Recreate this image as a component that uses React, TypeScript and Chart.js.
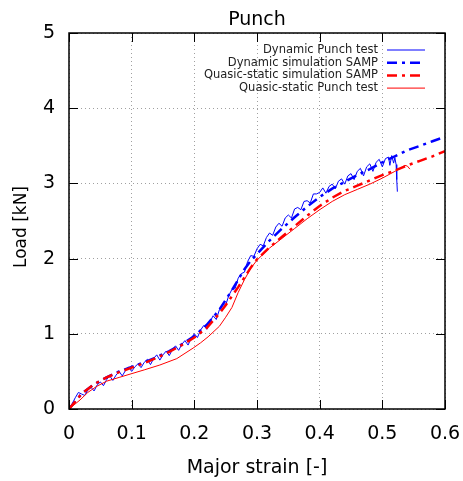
import React, { useEffect, useRef } from "react";
import { Chart, registerables } from "chart.js";

Chart.register(...registerables);

const xTicksMin = 0;
const xTicksMax = 0.6;
const yTicksMin = 0;
const yTicksMax = 5;

const dynTestStrain = [0,0.005,0.01,0.015,0.02,0.025,0.03,0.035,0.04,0.045,0.05,0.055,0.06,0.065,0.07,0.075,0.08,0.085,0.09,0.095,0.1,0.105,0.11,0.115,0.12,0.125,0.13,0.135,0.14,0.145,0.15,0.155,0.16,0.165,0.17,0.175,0.18,0.185,0.19,0.195,0.2,0.205,0.21,0.215,0.22,0.225,0.23,0.235,0.24,0.245,0.25,0.255,0.26,0.265,0.27,0.275,0.28,0.285,0.29,0.295,0.3,0.305,0.31,0.315,0.32,0.325,0.33,0.335,0.34,0.345,0.35,0.355,0.36,0.365,0.37,0.375,0.38,0.385,0.39,0.395,0.4,0.405,0.41,0.415,0.42,0.425,0.43,0.435,0.44,0.445,0.45,0.455,0.46,0.465,0.47,0.475,0.48,0.485,0.49,0.495,0.5,0.505,0.51,0.512,0.515,0.518,0.52,0.522,0.523,0.524];
const dynTestLoad = [0,0.07,0.15,0.22,0.2,0.18,0.25,0.29,0.24,0.32,0.36,0.31,0.39,0.44,0.38,0.45,0.5,0.44,0.51,0.56,0.5,0.56,0.6,0.55,0.62,0.66,0.59,0.67,0.72,0.65,0.72,0.77,0.71,0.79,0.84,0.78,0.86,0.91,0.85,0.94,1.0,0.95,1.05,1.11,1.06,1.16,1.24,1.19,1.32,1.39,1.38,1.51,1.59,1.6,1.74,1.8,1.82,1.96,2.04,2.03,2.13,2.19,2.17,2.28,2.34,2.31,2.42,2.47,2.43,2.54,2.58,2.54,2.66,2.68,2.65,2.76,2.77,2.74,2.86,2.86,2.88,2.94,2.87,2.96,2.99,2.93,3.03,3.06,2.99,3.1,3.13,3.05,3.16,3.2,3.1,3.22,3.26,3.16,3.28,3.32,3.22,3.33,3.35,3.24,3.37,3.27,3.34,3.25,3.05,2.89];

const dynSimStrain = [0,0.01,0.02,0.04,0.06,0.08,0.1,0.12,0.14,0.16,0.18,0.2,0.22,0.24,0.25,0.26,0.27,0.28,0.29,0.3,0.32,0.34,0.36,0.38,0.4,0.42,0.44,0.46,0.48,0.5,0.52,0.54,0.56,0.58,0.6];
const dynSimLoad = [0,0.1,0.2,0.33,0.42,0.5,0.56,0.62,0.69,0.77,0.86,0.97,1.12,1.32,1.45,1.58,1.72,1.86,1.97,2.06,2.24,2.4,2.55,2.69,2.82,2.93,3.02,3.11,3.19,3.28,3.36,3.44,3.5,3.56,3.62];

const qsSimStrain = [0,0.01,0.02,0.04,0.06,0.08,0.1,0.12,0.14,0.16,0.18,0.2,0.22,0.24,0.25,0.26,0.27,0.28,0.29,0.3,0.32,0.34,0.36,0.38,0.4,0.42,0.44,0.46,0.48,0.5,0.52,0.54,0.56,0.58,0.6];
const qsSimLoad = [0,0.1,0.2,0.33,0.42,0.49,0.55,0.61,0.68,0.76,0.85,0.95,1.08,1.27,1.38,1.5,1.62,1.75,1.88,1.99,2.15,2.29,2.43,2.57,2.7,2.81,2.9,2.97,3.04,3.11,3.17,3.24,3.3,3.36,3.43];

const qsTestStrain = [0,0.0176,0.03,0.044,0.06,0.08,0.1,0.12,0.145,0.172,0.198,0.21,0.222,0.24,0.25,0.26,0.27,0.28,0.29,0.3,0.32,0.34,0.36,0.38,0.4,0.42,0.44,0.46,0.48,0.5,0.52,0.53,0.536,0.54,0.544];
const qsTestLoad = [0,0.12,0.22,0.3,0.37,0.42,0.47,0.52,0.585,0.67,0.81,0.88,0.96,1.1,1.22,1.35,1.55,1.72,1.87,1.98,2.14,2.27,2.4,2.53,2.65,2.76,2.85,2.92,2.99,3.07,3.16,3.21,3.24,3.23,3.19];

const seriesLabels = [
  "Dynamic Punch test",
  "Dynamic simulation SAMP",
  "Quasic-static simulation SAMP",
  "Quasic-static Punch test",
];

const FONT = "DejaVu Sans";

function pts(xs: number[], ys: number[]) {
  return xs.map((x, i) => ({ x, y: ys[i] }));
}

const framePlugin = {
  id: "framePlugin",
  afterDatasetsDraw(chart: any) {
    const { ctx, chartArea: a, scales } = chart;
    ctx.save();
    ctx.strokeStyle = "#000";
    ctx.lineWidth = 1;
    const tl = 9;
    scales.x.ticks.forEach((t: any) => {
      const px = Math.round(scales.x.getPixelForValue(t.value)) + 0.5;
      ctx.beginPath();
      ctx.moveTo(px, a.bottom);
      ctx.lineTo(px, a.bottom - tl);
      ctx.moveTo(px, a.top);
      ctx.lineTo(px, a.top + tl);
      ctx.stroke();
    });
    scales.y.ticks.forEach((t: any) => {
      const py = Math.round(scales.y.getPixelForValue(t.value)) + 0.5;
      ctx.beginPath();
      ctx.moveTo(a.left, py);
      ctx.lineTo(a.left + tl, py);
      ctx.moveTo(a.right, py);
      ctx.lineTo(a.right - tl, py);
      ctx.stroke();
    });
    ctx.lineWidth = 1.5;
    ctx.strokeRect(a.left, a.top, a.right - a.left, a.bottom - a.top);

    ctx.fillStyle = "#000";
    ctx.textAlign = "center";
    ctx.textBaseline = "middle";
    ctx.font = `19px "${FONT}"`;
    ctx.fillText("Punch", (a.left + a.right) / 2, 20);
    ctx.fillText("Major strain [-]", (a.left + a.right) / 2, 468);
    ctx.save();
    ctx.translate(21.5, 227);
    ctx.rotate(-Math.PI / 2);
    ctx.font = `17px "${FONT}"`;
    ctx.fillText("Load [kN]", 0, 0);
    ctx.restore();

    ctx.font = `11.5px "${FONT}"`;
    ctx.textAlign = "right";
    chart.data.datasets.forEach((ds: any, i: number) => {
      const y = 50 + i * 12.7;
      ctx.fillStyle = "#222";
      ctx.fillText(ds.label, 378, y);
      ctx.save();
      ctx.strokeStyle = ds.borderColor;
      ctx.lineWidth = ds.borderWidth;
      ctx.setLineDash(ds.borderDash || []);
      ctx.beginPath();
      ctx.moveTo(387, y);
      ctx.lineTo(425, y);
      ctx.stroke();
      ctx.restore();
    });
    ctx.restore();
  },
};

export default function App() {
  const ref = useRef<HTMLCanvasElement>(null);
  useEffect(() => {
    document.body.style.margin = "0";
    const dash = [10, 5, 3, 5];
    const chart = new Chart(ref.current!, {
      type: "scatter",
      data: {
        datasets: [
          {
            label: seriesLabels[0],
            data: pts(dynTestStrain, dynTestLoad),
            borderColor: "#0000ff",
            borderWidth: 1,
            showLine: true,
            pointRadius: 0,
            order: 4,
          },
          {
            label: seriesLabels[1],
            data: pts(dynSimStrain, dynSimLoad),
            borderColor: "#0000ff",
            borderWidth: 2.5,
            borderDash: dash,
            showLine: true,
            pointRadius: 0,
            order: 3,
          },
          {
            label: seriesLabels[2],
            data: pts(qsSimStrain, qsSimLoad),
            borderColor: "#ff0000",
            borderWidth: 2.5,
            borderDash: dash,
            showLine: true,
            pointRadius: 0,
            order: 2,
          },
          {
            label: seriesLabels[3],
            data: pts(qsTestStrain, qsTestLoad),
            borderColor: "#ff0000",
            borderWidth: 1,
            showLine: true,
            pointRadius: 0,
            order: 1,
          },
        ],
      } as any,
      options: {
        animation: false,
        responsive: false,
        devicePixelRatio: 1,
        layout: { padding: { left: 0, right: 18, top: 33, bottom: 0 } },
        plugins: { legend: { display: false }, tooltip: { enabled: false }, title: { display: false } },
        scales: {
          x: {
            type: "linear",
            min: xTicksMin,
            max: xTicksMax,
            ticks: {
              stepSize: 0.1,
              padding: 14,
              color: "#000",
              font: { family: FONT, size: 19 },
              maxRotation: 0,
              callback: (v: any) => String(Number(Number(v).toFixed(1))),
            },
            grid: { color: "#a0a0a0", lineWidth: 1, drawTicks: false },
            border: { display: false, dash: [1, 3] },
            afterFit: (s: any) => { s.height = 72; s.paddingLeft = 0; s.paddingRight = 0; },
          },
          y: {
            type: "linear",
            min: yTicksMin,
            max: yTicksMax,
            ticks: {
              stepSize: 1,
              padding: 14,
              color: "#000",
              font: { family: FONT, size: 19 },
              callback: (v: any) => String(v),
            },
            grid: { color: "#a0a0a0", lineWidth: 1, drawTicks: false },
            border: { display: false, dash: [1, 3] },
            afterFit: (s: any) => { s.width = 69; s.paddingTop = 0; s.paddingBottom = 0; },
          },
        },
      } as any,
      plugins: [framePlugin],
    });
    return () => chart.destroy();
  }, []);
  return <canvas ref={ref} width={463} height={481} style={{ display: "block" }} />;
}
